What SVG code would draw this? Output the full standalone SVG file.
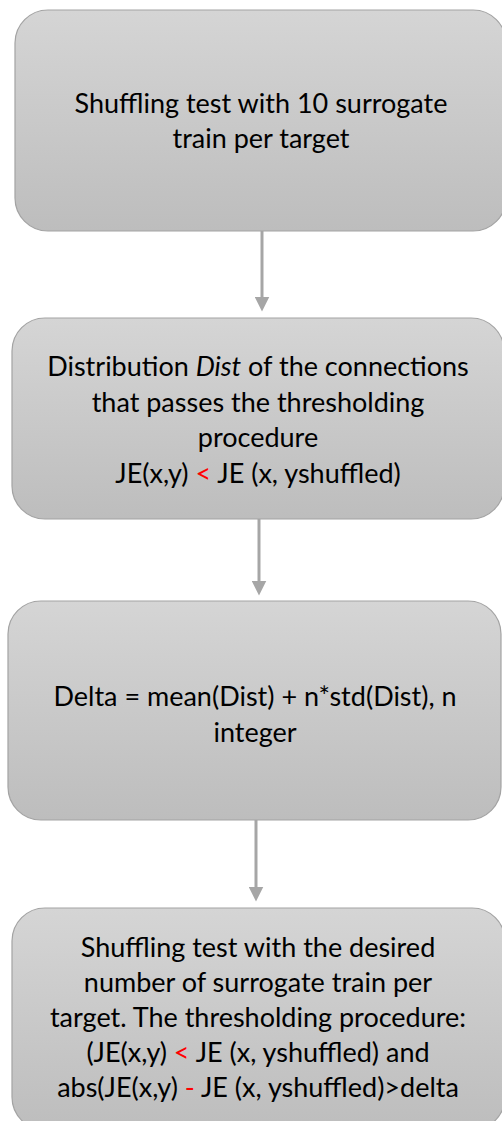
<svg xmlns="http://www.w3.org/2000/svg" width="502" height="1121" viewBox="0 0 502 1121">
<style>
.box{fill:url(#g);stroke:#a3a3a3;stroke-width:1.2}
.t{font-family:Lato,"Open Sans","Liberation Sans",sans-serif;font-size:27px;fill:#000;text-anchor:middle}
.r{fill:#ff0000}
.c{stroke:#a6a6a6;stroke-width:3;fill:none;marker-end:url(#ah)}
</style>
<defs>
<linearGradient id="g" x1="0" y1="0" x2="0" y2="1">
<stop offset="0" stop-color="#d5d5d5"/>
<stop offset="1" stop-color="#bdbdbd"/>
</linearGradient>
<marker id="ah" markerWidth="5" markerHeight="5" refX="0.5" refY="2.5" orient="auto" markerUnits="strokeWidth" viewBox="0 0 5 5">
<path d="M0,0 L5,2.5 L0,5 Z" fill="#a6a6a6"/>
</marker>
</defs>
<g id="connectors">
<line class="c" x1="262" y1="231" x2="262" y2="298"/>
<line class="c" x1="259" y1="519" x2="259" y2="582"/>
<line class="c" x1="256" y1="820" x2="256" y2="888"/>
</g>
<g id="node1">
<rect class="box" x="15" y="10" width="491" height="221" rx="33"/>
<text class="t" x="261" y="113">Shuffling test with 10 surrogate</text>
<text class="t" x="261" y="148">train per target</text>
</g>
<g id="node2">
<rect class="box" x="12" y="318" width="492" height="201" rx="33"/>
<text class="t" x="258" y="376">Distribution <tspan font-style="italic">Dist</tspan> of the connections</text>
<text class="t" x="258" y="412">that passes the thresholding</text>
<text class="t" x="258" y="447">procedure</text>
<text class="t" x="258" y="483">JE(x,y) <tspan class="r">&lt;</tspan> JE (x, yshuffled)</text>
</g>
<g id="node3">
<rect class="box" x="8" y="601" width="493" height="219" rx="33"/>
<text class="t" x="255" y="706">Delta = mean(Dist) + n*std(Dist), n</text>
<text class="t" x="255" y="742">integer</text>
</g>
<g id="node4">
<rect class="box" x="12" y="908" width="493" height="222" rx="33"/>
<text class="t" x="258" y="957">Shuffling test with the desired</text>
<text class="t" x="258" y="992">number of surrogate train per</text>
<text class="t" x="258" y="1027">target. The thresholding procedure:</text>
<text class="t" x="258" y="1062">(JE(x,y) <tspan class="r">&lt;</tspan> JE (x, yshuffled) and</text>
<text class="t" x="258" y="1097">abs(JE(x,y) <tspan class="r">-</tspan> JE (x, yshuffled)&gt;delta</text>
</g>
</svg>
